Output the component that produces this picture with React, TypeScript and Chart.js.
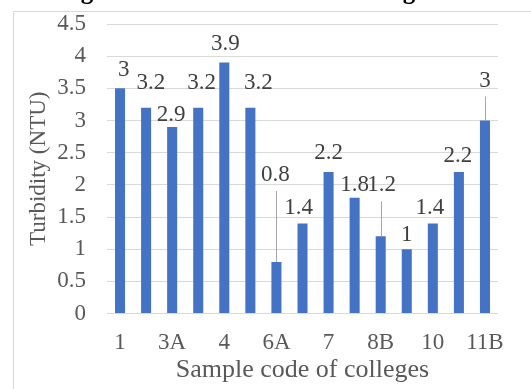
import React, { useEffect, useRef } from "react";
import { Chart, registerables } from "chart.js";

Chart.register(...registerables);

const categories = ["1", "2", "3A", "3B", "4", "5", "6A", "6B", "7", "8A", "8B", "9", "10", "11A", "11B"];
const turbidity = [3.5, 3.2, 2.9, 3.2, 3.9, 3.2, 0.8, 1.4, 2.2, 1.8, 1.2, 1.0, 1.4, 2.2, 3.0];
const valueLabels = ["3", "3.2", "2.9", "3.2", "3.9", "3.2", "0.8", "1.4", "2.2", "1.8", "1.2", "1", "1.4", "2.2", "3"];
const yMin = 0;
const yMax = 4.5;
const yStep = 0.5;
const chartTitle = "Drinking water in the selected 15 colleges";
const xTitle = "Sample code of colleges";
const yTitle = "Turbidity (NTU)";

const SERIF = '"Liberation Serif", "DejaVu Serif", serif';

// label placement: [dx, dy (label centre relative to bar top), leader line]
const labelPlacement: [number, number, boolean][] = [
  [3.6, -18, false],
  [4.7, -25, false],
  [-1, -12, false],
  [3.5, -25, false],
  [1, -19, false],
  [8, -25, false],
  [-1, -87, true],
  [-4, -15, false],
  [0, -19, false],
  [0, -13, false],
  [1, -51, true],
  [0, -14, false],
  [-3, -15, false],
  [-1, -16, false],
  [0, -40, true],
];

const framePlugin = {
  id: "frame",
  beforeDraw(chart: any) {
    const ctx = chart.ctx;
    ctx.save();
    ctx.strokeStyle = "#d9d9d9";
    ctx.lineWidth = 1;
    ctx.beginPath();
    ctx.moveTo(13.5, chart.height + 2);
    ctx.lineTo(13.5, 11.5);
    ctx.lineTo(chart.width + 2, 11.5);
    ctx.stroke();
    ctx.font = `bold 25px ${SERIF}`;
    ctx.fillStyle = "#000000";
    ctx.textAlign = "left";
    ctx.textBaseline = "alphabetic";
    ctx.fillText(chartTitle, -4, -1);
    ctx.restore();
  },
};

const dataLabelPlugin = {
  id: "valueLabels",
  afterDatasetsDraw(chart: any) {
    const ctx = chart.ctx;
    const meta = chart.getDatasetMeta(0);
    ctx.save();
    meta.data.forEach((bar: any, i: number) => {
      const [dx, dy, leader] = labelPlacement[i];
      const cx = bar.x + dx;
      const cy = bar.y + dy;
      if (leader) {
        ctx.strokeStyle = "#a6a6a6";
        ctx.lineWidth = 1;
        ctx.beginPath();
        ctx.moveTo(Math.round(bar.x) + 0.5, cy + 16);
        ctx.lineTo(Math.round(bar.x) + 0.5, bar.y);
        ctx.stroke();
      }
      ctx.font = `23px ${SERIF}`;
      ctx.fillStyle = "#404040";
      ctx.textAlign = "center";
      ctx.textBaseline = "middle";
      ctx.fillText(valueLabels[i], cx, cy);
    });
    ctx.restore();
  },
};

export default function App() {
  const ref = useRef<HTMLCanvasElement | null>(null);
  useEffect(() => {
    let chart: any = null;
    let cancelled = false;
    const build = () => {
      if (cancelled || !ref.current) return;
      chart = new Chart(ref.current, {
        type: "bar",
        data: {
          labels: categories,
          datasets: [
            {
              data: turbidity,
              backgroundColor: "#4472C4",
              barPercentage: 0.385,
              categoryPercentage: 1,
            },
          ],
        },
        options: {
          animation: false,
          responsive: false,
          devicePixelRatio: 1,
          layout: { padding: { left: 0, right: 33, top: 24, bottom: 0 } },
          plugins: {
            legend: { display: false },
            tooltip: { enabled: false },
            title: { display: false },
          },
          scales: {
            x: {
              grid: { display: false, drawTicks: false },
              border: { display: false },
              ticks: {
                autoSkip: false,
                maxRotation: 0,
                minRotation: 0,
                padding: 16,
                color: "#595959",
                font: { family: SERIF, size: 23 },
                callback: (_v: any, i: number) => (i % 2 === 0 ? categories[i] : ""),
              },
              title: {
                display: true,
                text: xTitle,
                color: "#595959",
                font: { family: SERIF, size: 26, lineHeight: 1.2 },
                padding: { top: 0, bottom: 3.4 },
              },
              afterFit: (scale: any) => {
                scale.height = 75.5;
                scale.paddingLeft = 0;
                scale.paddingRight = 0;
              },
            },
            y: {
              min: yMin,
              max: yMax,
              grid: { color: "#d9d9d9", lineWidth: 1, drawTicks: false },
              border: { display: false },
              ticks: {
                stepSize: yStep,
                padding: 21,
                color: "#595959",
                font: { family: SERIF, size: 23 },
                callback: (v: any) => String(Math.round(Number(v) * 10) / 10),
              },
              title: {
                display: true,
                text: yTitle,
                color: "#595959",
                font: { family: SERIF, size: 23, lineHeight: 1.2 },
                padding: { top: 25, bottom: 0 },
              },
              afterFit: (scale: any) => {
                scale.width = 107;
                scale.paddingTop = 0;
                scale.paddingBottom = 0;
              },
            },
          },
        },
        plugins: [framePlugin, dataLabelPlugin],
      });
    };
    const fonts: any = (document as any).fonts;
    if (fonts && fonts.load) {
      Promise.all([
        fonts.load('23px "Liberation Serif"'),
        fonts.load('bold 25px "Liberation Serif"'),
      ])
        .catch(() => null)
        .then(build);
    } else {
      build();
    }
    return () => {
      cancelled = true;
      if (chart) chart.destroy();
    };
  }, []);
  return (
    <div style={{ position: "absolute", left: 0, top: 0, width: 531, height: 389, background: "#ffffff" }}>
      <canvas ref={ref} width={531} height={389} style={{ display: "block" }} />
    </div>
  );
}
